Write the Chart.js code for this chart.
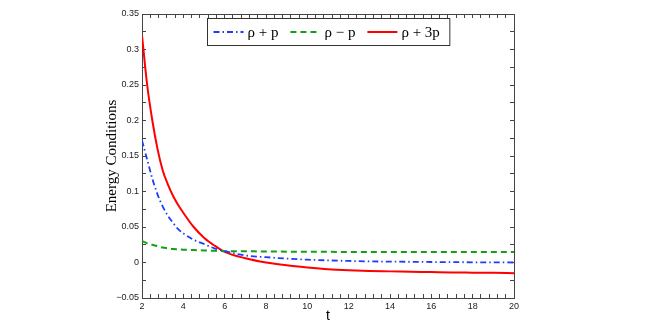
<!DOCTYPE html>
<html>
<head>
<meta charset="utf-8">
<title>Energy Conditions</title>
<script src="https://cdn.jsdelivr.net/npm/chart.js@4/dist/chart.umd.min.js"></script>
<style>
  body { margin: 0; background: #fff; }
</style>
</head>
<body>
<canvas id="myChart" width="654" height="327"></canvas>
<script>
// Data
const tValues = [2, 2.25, 2.5, 2.75, 3, 3.25, 3.5, 3.75, 4, 4.5, 5, 5.5, 6, 7, 8, 9, 10, 11, 12, 13, 14, 15, 16, 17, 18, 19, 20];
const rhoPlusP = [0.172, 0.145, 0.118, 0.096, 0.079, 0.066, 0.056, 0.047, 0.041, 0.032, 0.026, 0.020, 0.016, 0.010, 0.0075, 0.0055, 0.004, 0.003, 0.0022, 0.0016, 0.0012, 0.001, 0.0007, 0.0005, 0.0003, 0.0002, 0.0];
const rhoMinusP = [0.030, 0.027, 0.025, 0.023, 0.021, 0.020, 0.019, 0.0185, 0.018, 0.0175, 0.017, 0.0165, 0.016, 0.0158, 0.0155, 0.0153, 0.015, 0.015, 0.0149, 0.0149, 0.0148, 0.0148, 0.0148, 0.0147, 0.0147, 0.0147, 0.0147];
const rhoPlus3P = [0.32, 0.25, 0.2, 0.16, 0.13, 0.11, 0.094, 0.081, 0.07, 0.05, 0.035, 0.024, 0.015, 0.006, 0.0, -0.004, -0.007, -0.0095, -0.011, -0.012, -0.0125, -0.013, -0.0135, -0.014, -0.0143, -0.0146, -0.015];
const seriesLabels = ['\u03c1 + p', '\u03c1 \u2212 p', '\u03c1 + 3p'];

// x ticks every 2, minor every 0.4 ; y ticks every 0.05, minor every 0.025
const xMajor = 2;
const yMajor = 0.05;

function toPoints(ys) {
  return ys.map((y, i) => ({ x: tValues[i], y: y }));
}

function isMajor(v, step) {
  let r = v / step;
  return Math.abs(r - Math.round(r)) < 1e-6;
}

function yLabel(v) {
  if (!isMajor(v, yMajor)) return '';
  let n = Math.round(v * 100) / 100;
  if (n === 0) return '0';
  let s = String(Math.abs(n));
  return n < 0 ? '\u2212' + s : s;
}

const tickFont = { family: 'Liberation Sans', size: 9 };
const axisColor = '#444';

// shared grid settings: no grid lines, short ticks pointing inward
const gridOpts = {
  drawOnChartArea: false,
  drawTicks: true,
  tickLength: -4,
  tickColor: axisColor,
  tickWidth: 1
};
const borderOpts = { display: true, color: axisColor, width: 1 };

// Legend box drawn inside the plot, top centre
const boxLegend = {
  id: 'boxLegend',
  afterDraw(chart) {
    const ctx = chart.ctx;
    const area = chart.chartArea;
    ctx.save();
    ctx.font = '15px "Liberation Serif"';
    const lineLen = 30, gapText = 4, gapItem = 12, padL = 6, padR = 10;
    let widths = chart.data.datasets.map(ds => ctx.measureText(ds.label).width);
    let total = padL + padR;
    widths.forEach((w, i) => {
      total += lineLen + gapText + w;
      if (i < widths.length - 1) total += gapItem;
    });
    const boxH = 27;
    const left = Math.round((area.left + area.right) / 2 - total / 2) + 0.5;
    const top = area.top + 4.5;
    ctx.fillStyle = '#fff';
    ctx.fillRect(left, top, total, boxH);
    ctx.strokeStyle = '#333';
    ctx.lineWidth = 1;
    ctx.strokeRect(left, top, total, boxH);

    let x = left + padL;
    const y = top + boxH / 2;
    chart.data.datasets.forEach((ds, i) => {
      ctx.beginPath();
      ctx.setLineDash(ds.borderDash || []);
      ctx.strokeStyle = ds.borderColor;
      ctx.lineWidth = ds.borderWidth;
      ctx.moveTo(x, y);
      ctx.lineTo(x + lineLen, y);
      ctx.stroke();
      ctx.setLineDash([]);
      x += lineLen + gapText;
      ctx.fillStyle = '#000';
      ctx.textBaseline = 'middle';
      ctx.textAlign = 'left';
      ctx.fillText(ds.label, x, y + 1);
      x += widths[i] + gapItem;
    });
    ctx.restore();
  }
};

const data = {
  datasets: [
    {
      label: seriesLabels[0],
      data: toPoints(rhoPlusP),
      borderColor: 'rgb(30, 60, 255)',
      borderWidth: 1.8,
      borderDash: [6, 3, 1.5, 3]
    },
    {
      label: seriesLabels[1],
      data: toPoints(rhoMinusP),
      borderColor: 'rgb(20, 160, 20)',
      borderWidth: 2,
      borderDash: [6, 4]
    },
    {
      label: seriesLabels[2],
      data: toPoints(rhoPlus3P),
      borderColor: 'rgb(255, 0, 0)',
      borderWidth: 2
    }
  ]
};

const config = {
  type: 'line',
  data: data,
  options: {
    responsive: false,
    animation: false,
    layout: { padding: 0 },
    elements: {
      point: { radius: 0 },
      line: { cubicInterpolationMode: 'monotone', fill: false }
    },
    plugins: {
      legend: { display: false },
      tooltip: { enabled: false }
    },
    scales: {
      x: {
        type: 'linear',
        position: 'bottom',
        min: 2,
        max: 20,
        grid: gridOpts,
        border: borderOpts,
        ticks: {
          stepSize: 0.4,
          maxTicksLimit: 100,
          autoSkip: false,
          maxRotation: 0,
          padding: 7,
          color: '#222',
          font: tickFont,
          callback: v => isMajor(v, xMajor) ? String(Math.round(v)) : ''
        },
        title: {
          display: true,
          text: 't',
          color: '#000',
          font: { family: 'Liberation Sans', size: 14 },
          padding: { top: 0, bottom: 2 }
        },
        afterFit: s => { s.height = 29; }
      },
      x2: {
        type: 'linear',
        position: 'top',
        min: 2,
        max: 20,
        grid: gridOpts,
        border: borderOpts,
        ticks: { display: false, stepSize: 0.4, maxTicksLimit: 100, autoSkip: false },
        afterFit: s => { s.height = 14; }
      },
      y: {
        type: 'linear',
        position: 'left',
        min: -0.05,
        max: 0.35,
        grid: gridOpts,
        border: borderOpts,
        ticks: {
          stepSize: 0.025,
          maxTicksLimit: 100,
          autoSkip: false,
          padding: 7,
          color: '#222',
          font: tickFont,
          callback: v => yLabel(v)
        },
        title: {
          display: true,
          text: 'Energy Conditions',
          color: '#000',
          font: { family: 'Liberation Serif', size: 15 },
          padding: { top: 103, bottom: 0 }
        },
        afterFit: s => { s.width = 142; }
      },
      y2: {
        type: 'linear',
        position: 'right',
        min: -0.05,
        max: 0.35,
        grid: gridOpts,
        border: borderOpts,
        ticks: { display: false, stepSize: 0.025, maxTicksLimit: 100, autoSkip: false },
        afterFit: s => { s.width = 140; }
      }
    }
  },
  plugins: [boxLegend]
};

var myChart = new Chart(document.getElementById('myChart'), config);
</script>
</body>
</html>
